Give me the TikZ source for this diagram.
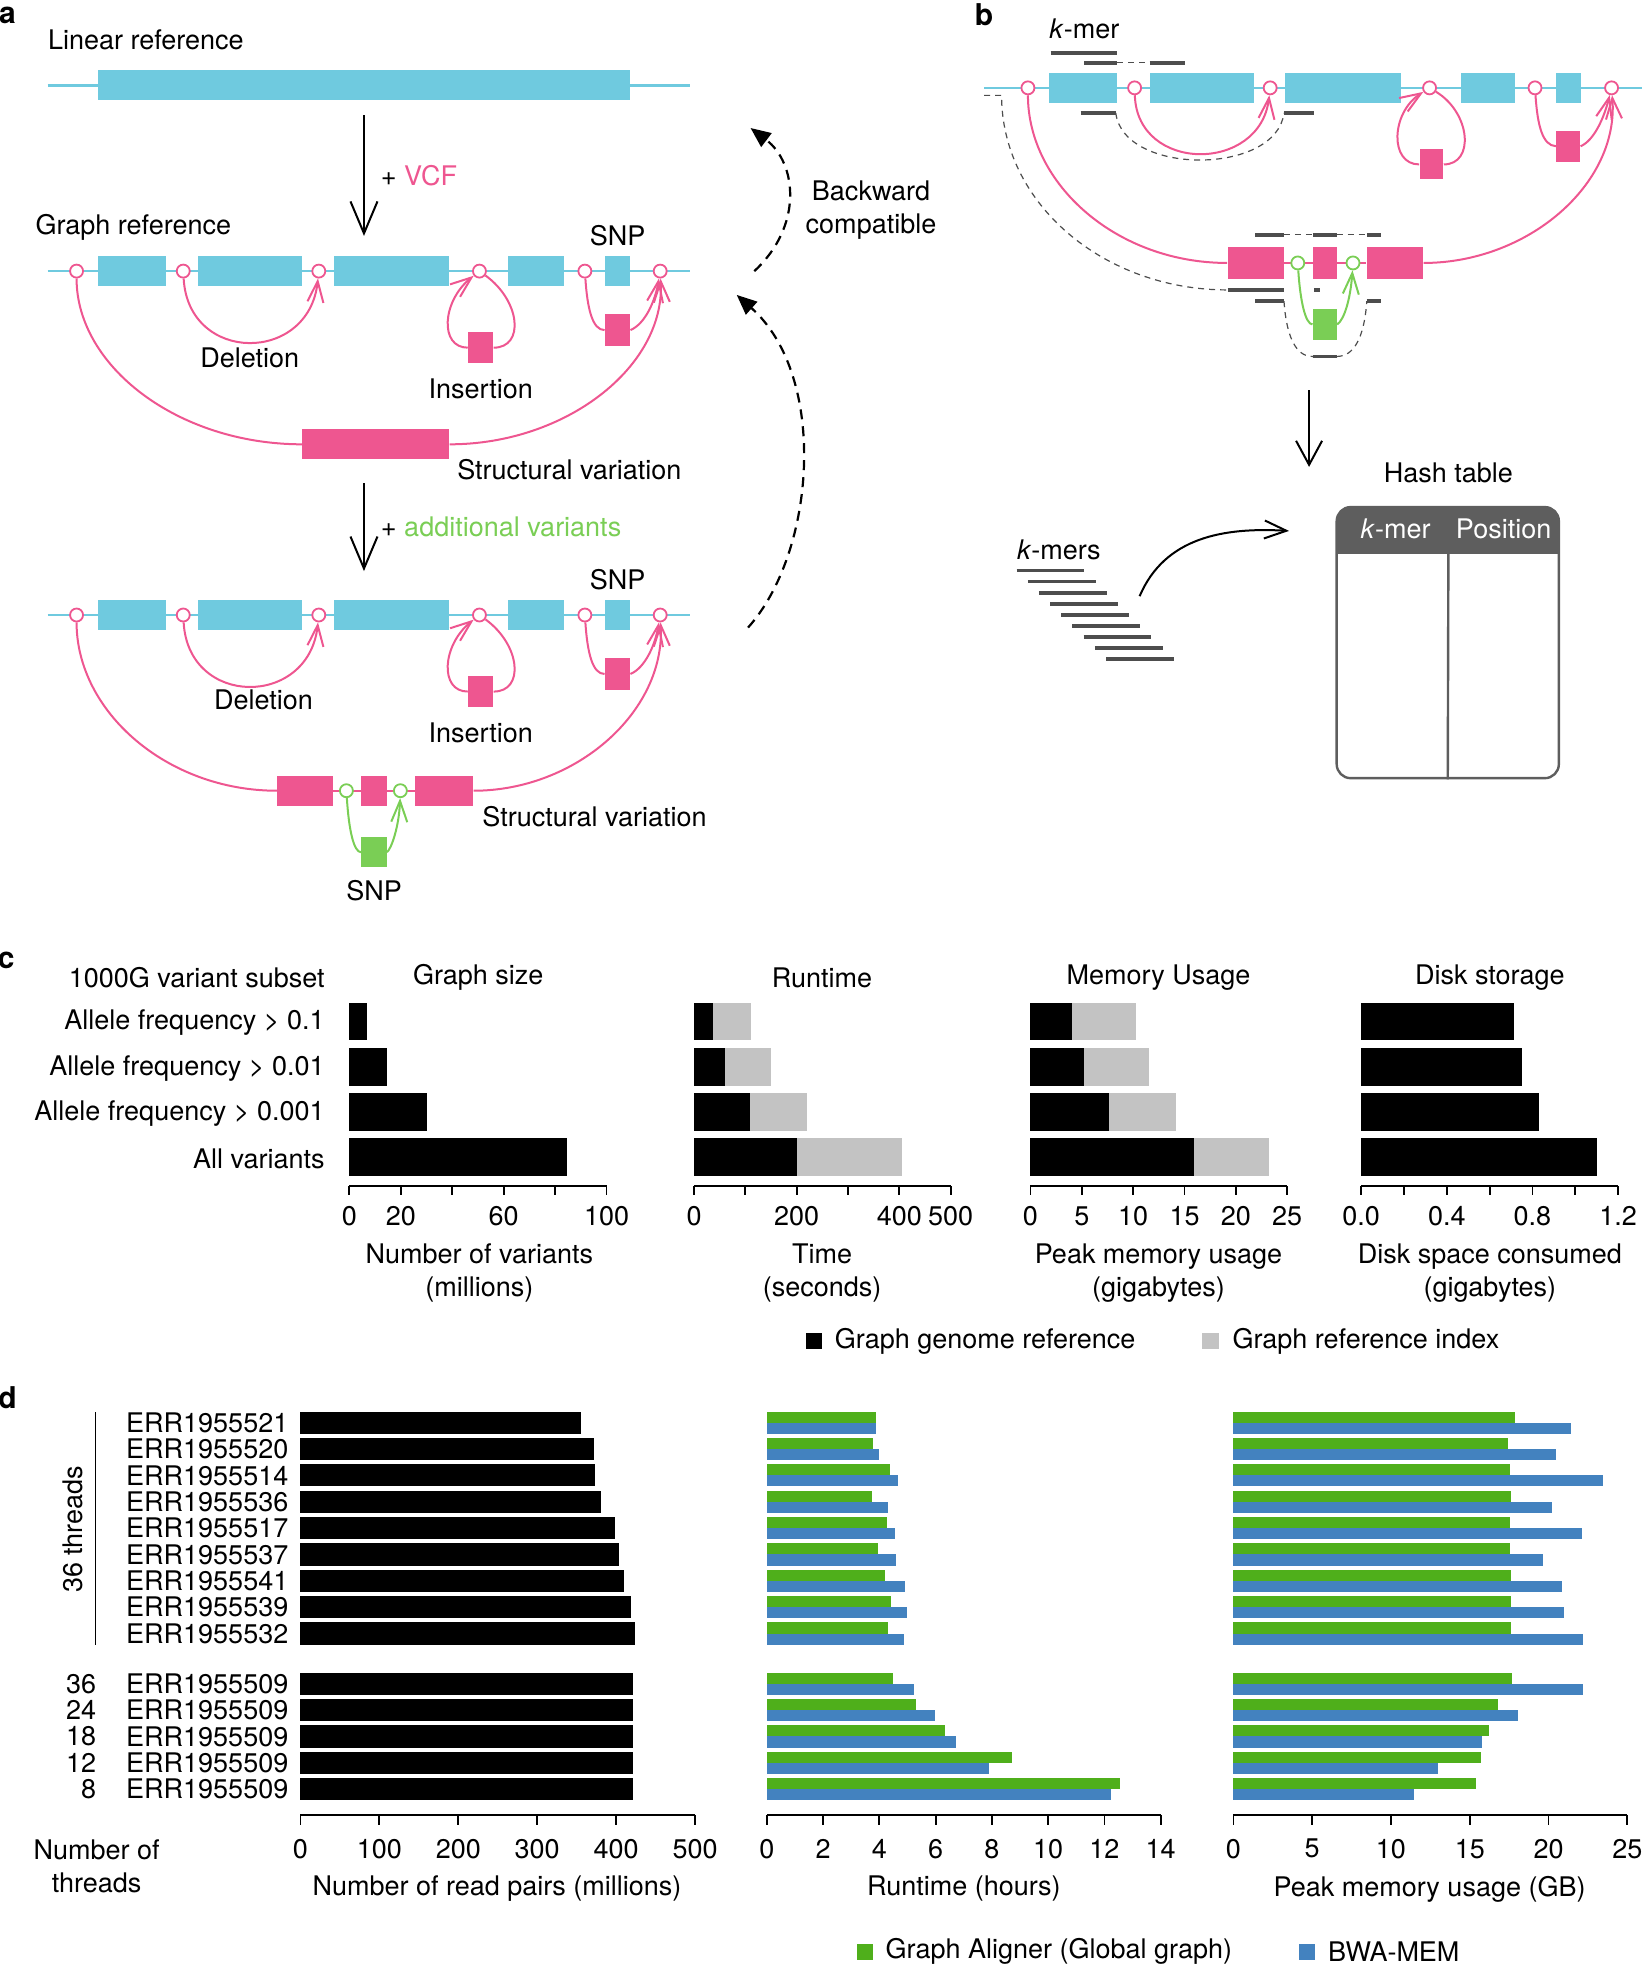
\documentclass[tikz,border=0pt]{standalone}
\usepackage{fontspec}
\setmainfont{TeX Gyre Heros}
\usetikzlibrary{arrows.meta,positioning}
\definecolor{tealc}{HTML}{6FCADF}
\definecolor{pinkc}{HTML}{EE5690}
\definecolor{greenc}{HTML}{7ACE55}
\definecolor{grn}{HTML}{4FAF1B}
\definecolor{blu}{HTML}{4382BF}
\definecolor{lgray}{HTML}{C3C3C3}
\definecolor{dgray}{HTML}{4D4D4D}
\definecolor{hgray}{HTML}{5E5E5E}
\newlength\pxu
\setlength\pxu{0.6277pt}

\begin{document}
\begin{tikzpicture}[x=0.6277pt, y=-0.6277pt, inner sep=0pt,
    font=\fontsize{13.5}{16.5}\selectfont,
    refline/.style={draw=tealc, line width=1.3pt},
    junc/.style={circle, draw=pinkc, fill=white, line width=0.9pt, minimum size=6.5pt},
    gjunc/.style={junc, draw=greenc},
    varbox/.style={fill=pinkc, minimum width=20\pxu, minimum height=25\pxu},
    gbox/.style={varbox, fill=greenc},
    pline/.style={draw=pinkc, line width=1pt},
    gline/.style={draw=greenc, line width=1pt},
    ptip/.style={-{Straight Barb[length=10.5pt, width=8pt]}},
    bigarrow/.style={draw, line width=1pt, -{Straight Barb[length=16pt, width=13.5pt]}},
    backarrow/.style={draw, line width=1.1pt, dash pattern=on 5pt off 3.5pt, -{Triangle[length=10pt, width=8.5pt]}},
    kbar/.style={draw=dgray, line width=1.8pt},
    kdash/.style={draw=dgray, line width=0.6pt, dash pattern=on 3pt off 2.5pt},
    axln/.style={draw, line width=0.9pt},
    panel/.style={font=\fontsize{15}{18}\selectfont\bfseries}]
  \useasboundingbox (0,0) rectangle (1308,1568);

  % ---------------- a ----------------
  \node[panel] (pa) at (6,12) {a};
  \node[anchor=west] (linref) at (38,32) {Linear reference};
  \draw[refline] (38,68) -- (550,68);
  \fill[tealc] (78,56) rectangle (502,80);
  \coordinate (va1) at (290,92);
  \coordinate (va2) at (290,188);
  \draw[bigarrow] (va1) -- (va2) node[midway, right=8pt] {+ \textcolor{pinkc}{VCF}};
  \node[anchor=west] (graphref) at (28,181) {Graph reference};

  \foreach \r/\y in {1/216, 2/490} {
    \draw[refline] (38,\y) -- (550,\y);
    \foreach \a/\b in {78/132, 158/241, 266/358, 405/449, 482/502}
      \fill[tealc] (\a,\y-12) rectangle (\b,\y+12);
    \foreach \n/\x in {1/61, 2/146, 3/254, 4/382, 5/466, 6/526}
      \node[junc] (c\r\n) at (\x,\y) {};
    \node[varbox] (ins\r) at (383,\y+61) {};
    \node[varbox] (snp\r) at (492,\y+47) {};
    \draw[pline, ptip] (c\r2) .. controls (150,\y+74) and (246,\y+74) .. (c\r3);
    \draw[pline] (c\r4) .. controls (415,\y+24) and (418,\y+61) .. (ins\r.east);
    \draw[pline, ptip] (ins\r.west) .. controls (350,\y+61) and (352,\y+24) .. (c\r4);
    \draw[pline] (c\r5) .. controls (468,\y+30) and (472,\y+47) .. (snp\r.west);
    \draw[pline, ptip] (snp\r.east) .. controls (514,\y+42) and (522,\y+24) .. (c\r6);
    \node (snplbl\r) at (492,\y-28) {SNP};
    \node (inslbl\r) at (383,\y+94) {Insertion};
  }

  % structural variation, first graph
  \node[varbox, minimum width=117\pxu, minimum height=24\pxu] (sv1) at (299.5,354) {};
  \draw[pline] (c11) .. controls (61,292) and (142,354) .. (sv1.west);
  \draw[pline, ptip] (sv1.east) .. controls (451,354) and (530,292) .. (c16);
  \node (del1) at (199,285) {Deletion};
  \node[anchor=west] (svlbl1) at (364,374) {Structural variation};

  \coordinate (vb1) at (290,385);
  \coordinate (vb2) at (290,455);
  \draw[bigarrow] (vb1) -- (vb2) node[midway, right=8pt] {+ \textcolor{greenc}{additional variants}};

  % structural variation with extra SNP, second graph
  \node[varbox, minimum width=44\pxu, minimum height=24\pxu] (svl) at (243,630) {};
  \node[varbox, minimum width=46\pxu, minimum height=24\pxu] (svr) at (354,630) {};
  \draw[pline] (svl.east) -- (svr.west);
  \node[varbox, minimum height=24\pxu] (svm) at (298,630) {};
  \node[gjunc] (g1) at (276,630) {};
  \node[gjunc] (g2) at (319,630) {};
  \node[gbox, minimum height=24\pxu] (gsnp) at (298,679) {};
  \draw[gline] (g1) .. controls (278,662) and (282,679) .. (gsnp.west);
  \draw[gline, ptip] (gsnp.east) .. controls (312,676) and (318,658) .. (g2);
  \draw[pline] (c21) .. controls (61,567) and (133,630) .. (svl.west);
  \draw[pline, ptip] (svr.east) .. controls (459,630) and (530,567) .. (c26);
  \node (del2) at (210,558) {Deletion};
  \node[anchor=west] (svlbl2) at (384,651) {Structural variation};
  \node (gsnplbl) at (298,710) {SNP};

  % backward compatible
  \node[align=center] (back) at (694,167) {Backward\\compatible};
  \coordinate (bk1) at (601,216);
  \coordinate (bk2) at (598,102);
  \coordinate (bk3) at (596,500);
  \coordinate (bk4) at (587,235);
  \draw[backarrow] (bk1) .. controls (640,180) and (635,130) .. (bk2);
  \draw[backarrow] (bk3) .. controls (650,440) and (660,300) .. (bk4);

  % ---------------- b ----------------
  \node[panel] (pb) at (784,12) {b};
  \node (kmerlbl) at (864,23) {\textit{k}-mer};
  \draw[refline] (784,70) -- (1308,70);
  \foreach \a/\b in {836/890, 916/999, 1024/1116, 1164/1207, 1240/1260}
    \fill[tealc] (\a,58) rectangle (\b,82);
  \foreach \n/\x in {1/819, 2/904, 3/1012, 4/1139, 5/1223, 6/1284}
    \node[junc] (b\n) at (\x,70) {};
  \node[varbox, minimum width=19\pxu, minimum height=24\pxu] (bins) at (1140.5,131) {};
  \node[varbox, minimum width=19\pxu] (bsnp) at (1249.5,116.5) {};
  \draw[pline, ptip] (b2) .. controls (906,138) and (1004,138) .. (b3);
  \draw[pline] (b4) .. controls (1172,90) and (1175,131) .. (bins.east);
  \draw[pline, ptip] (bins.west) .. controls (1107,131) and (1108,90) .. (b4);
  \draw[pline] (b5) .. controls (1225,100) and (1229,116) .. (bsnp.west);
  \draw[pline, ptip] (bsnp.east) .. controls (1270,112) and (1278,94) .. (b6);

  \node[varbox, minimum width=45\pxu] (bsvl) at (1000.5,209.5) {};
  \node[varbox, minimum width=45\pxu] (bsvr) at (1111.5,209.5) {};
  \draw[pline] (bsvl.east) -- (bsvr.west);
  \node[varbox, minimum width=19\pxu] (bsvm) at (1055.5,209.5) {};
  \node[gjunc] (bg1) at (1034,209.5) {};
  \node[gjunc] (bg2) at (1078,209.5) {};
  \node[gbox, minimum width=19\pxu] (bgsnp) at (1055.5,258.5) {};
  \draw[gline] (bg1) .. controls (1036,240) and (1040,258) .. (bgsnp.west);
  \draw[gline, ptip] (bgsnp.east) .. controls (1071,255) and (1076,238) .. (bg2);
  \draw[pline] (b1) .. controls (819,147) and (890,209.5) .. (bsvl.west);
  \draw[pline, ptip] (bsvr.east) .. controls (1217,209.5) and (1290,147) .. (b6);

  % k-mers along the graph
  \draw[kbar] (837,42) -- (890,42);
  \draw[kbar] (864,50) -- (890,50);
  \draw[kdash] (890,50) -- (916,50);
  \draw[kbar] (916,50) -- (944,50);
  \draw[kbar] (861,90) -- (889,90);
  \draw[kdash] (889,90) .. controls (895,140) and (1017,140) .. (1023,90);
  \draw[kbar] (1023,90) -- (1047,90);
  \draw[kbar] (1000,187) -- (1023,187);
  \draw[kdash] (1023,187) -- (1046,187);
  \draw[kbar] (1046,187) -- (1065,187);
  \draw[kdash] (1065,187) -- (1089,187);
  \draw[kbar] (1089,187) -- (1100,187);
  \draw[kdash] (784,76) -- (798,76) .. controls (798,162) and (879,231) .. (978,231);
  \draw[kbar] (978,231) -- (1023,231);
  \draw[kbar] (1047,231) -- (1052,231);
  \draw[kbar] (1000,240) -- (1023,240);
  \draw[kdash] (1023,240) .. controls (1026,282) and (1040,284) .. (1046,284);
  \draw[kbar] (1046,284) -- (1065,284);
  \draw[kdash] (1065,284) .. controls (1071,284) and (1086,282) .. (1089,240);
  \draw[kbar] (1089,240) -- (1100,240);

  \coordinate (vc1) at (1043,311);
  \coordinate (vc2) at (1043,372);
  \draw[bigarrow, -{Straight Barb[length=12pt, width=13pt]}] (vc1) -- (vc2);

  % hash table
  \node (hashlbl) at (1154,377) {Hash table};
  \begin{scope}
    \clip (1065,404) rectangle (1242,441);
    \fill[hgray, rounded corners=7pt] (1065,404) rectangle (1242,480);
  \end{scope}
  \node[draw=hgray, line width=1.2pt, rounded corners=7pt, minimum width=177\pxu, minimum height=216\pxu] (tbl) at (1153.5,512) {};
  \draw[hgray, line width=1.2pt] (1154,441) -- (tbl.south);
  \node[text=white] (hk) at (1112,421) {\textit{k}-mer};
  \node[text=white] (hp) at (1198,421) {Position};

  \node[anchor=west] (kmerslbl) at (810,438) {\textit{k}-mers};
  \foreach \i in {0,...,8}
    \draw[kbar] ({810+8.9*\i},{454.6+8.83*\i}) -- ++(54,0);
  \coordinate (ka) at (908,475);
  \coordinate (kb) at (1027,423);
  \draw[line width=1pt, -{Straight Barb[length=11pt, width=9pt]}] (ka) .. controls (928,428) and (975,420) .. (kb);

  % ---------------- c ----------------
  \node[panel] (pc) at (5,765) {c};
  \node[anchor=east] (subset) at (259,779) {1000G variant subset};
  \node[anchor=east] (af1) at (259,815) {Allele frequency > 0.1};
  \node[anchor=east] (af2) at (259,851) {Allele frequency > 0.01};
  \node[anchor=east] (af3) at (259,887) {Allele frequency > 0.001};
  \node[anchor=east] (afall) at (259,923) {All variants};
  \node (tgs) at (381,779) {Graph size};
  \node (trt) at (655,779) {Runtime};
  \node (tmu) at (923,779) {Memory Usage};
  \node (tds) at (1187,779) {Disk storage};

  \foreach \yy/\gs/\rb/\rg/\mb/\mg/\dk in {814/7/37/111/4.0/10.3/0.713, 850/14.6/61/149/5.2/11.5/0.753,
      886/30.3/109/220/7.6/14.2/0.83, 922/84.8/200/405/15.9/23.2/1.10} {
    \fill (278.3,\yy-15) rectangle ({278.3+2.05*\gs},\yy+15);
    \fill[lgray] (553,\yy-15) rectangle ({553+0.409*\rg},\yy+15);
    \fill (553,\yy-15) rectangle ({553+0.409*\rb},\yy+15);
    \fill[lgray] (821,\yy-15) rectangle ({821+8.19*\mg},\yy+15);
    \fill (821,\yy-15) rectangle ({821+8.19*\mb},\yy+15);
    \fill (1084.5,\yy-15) rectangle ({1084.5+170.6*\dk},\yy+15);
  }

  \draw[axln] (278.3,945) -- (483.3,945);
  \foreach \t in {0,20,...,100} \draw[axln] ({278.3+2.05*\t},945) -- ++(0,7);
  \foreach \t in {0,20,60,100} \node at ({278.3+2.05*\t},969) {\t};
  \draw[axln] (553,945) -- (757.4,945);
  \foreach \t in {0,100,...,500} \draw[axln] ({553+0.4088*\t},945) -- ++(0,7);
  \foreach \t in {0,200,400,500} \node at ({553+0.4088*\t},969) {\t};
  \draw[axln] (821,945) -- (1025.6,945);
  \foreach \t in {0,5,...,25} {
    \draw[axln] ({821+8.184*\t},945) -- ++(0,7);
    \node at ({821+8.184*\t},969) {\t};
  }
  \draw[axln] (1084.5,945) -- (1289.2,945);
  \foreach \t in {0,1,...,6} \draw[axln] ({1084.5+34.12*\t},945) -- ++(0,7);
  \foreach \t/\lab in {0/0.0, 2/0.4, 4/0.8, 6/1.2} \node at ({1084.5+34.12*\t},969) {\lab};

  \node[align=center] (xgs) at (382,1014) {Number of variants\\(millions)};
  \node[align=center] (xrt) at (655,1014) {Time\\(seconds)};
  \node[align=center] (xmu) at (923,1014) {Peak memory usage\\(gigabytes)};
  \node[align=center] (xds) at (1187,1014) {Disk space consumed\\(gigabytes)};

  \node[fill=black, minimum size=13\pxu] (legg) at (648.5,1068.5) {};
  \node[right=6pt of legg] (leggt) {Graph genome reference};
  \node[fill=lgray, minimum size=13\pxu] (legi) at (964.5,1068.5) {};
  \node[right=6.5pt of legi] (legit) {Graph reference index};

  % ---------------- d ----------------
  \node[panel] (pd) at (6,1114) {d};
  \foreach \yy/\nm/\np/\ga/\bw/\gm/\bm in {
      1133.5/ERR1955521/356/3.87/3.87/17.85/21.42,
      1154.5/ERR1955520/371.5/3.78/3.99/17.45/20.44,
      1175.5/ERR1955514/372.7/4.38/4.66/17.52/23.43,
      1196.5/ERR1955536/380.6/3.74/4.31/17.59/20.22,
      1217.5/ERR1955517/398.5/4.27/4.56/17.55/22.15,
      1238.5/ERR1955537/403.8/3.95/4.58/17.55/19.63,
      1259.5/ERR1955541/409.8/4.21/4.91/17.59/20.88,
      1280.5/ERR1955539/419/4.42/4.97/17.63/20.99,
      1301.5/ERR1955532/423.6/4.31/4.89/17.63/22.19,
      1341.5/ERR1955509/421/4.50/5.24/17.7/22.19,
      1362.5/ERR1955509/421/5.30/5.99/16.79/18.07,
      1383.5/ERR1955509/421/6.32/6.73/16.2/15.8,
      1404.5/ERR1955509/421/8.73/7.91/15.73/12.96,
      1425.5/ERR1955509/421/12.56/12.23/15.4/11.46} {
    \node[anchor=east] at (230,\yy) {\nm};
    \fill (239.4,\yy-8.8) rectangle ({239.4+0.6288*\np},\yy+8.8);
    \fill[grn] (611,\yy-8.8) rectangle ({611+22.41*\ga},\yy);
    \fill[blu] (611,\yy) rectangle ({611+22.41*\bw},\yy+8.8);
    \fill[grn] (982.7,\yy-8.8) rectangle ({982.7+12.556*\gm},\yy);
    \fill[blu] (982.7,\yy) rectangle ({982.7+12.556*\bm},\yy+8.8);
  }
  \foreach \yy/\t in {1341.5/36, 1362.5/24, 1383.5/18, 1404.5/12, 1425.5/8}
    \node[anchor=east] at (77,\yy) {\t};
  \node[rotate=90] (thr) at (58,1218.5) {36 threads};
  \draw[line width=0.6pt] (76.3,1125) -- (76.3,1311);

  \draw[axln] (239.4,1446) -- (553.8,1446);
  \foreach \t in {0,100,...,500} {
    \draw[axln] ({239.4+0.6288*\t},1446) -- ++(0,8);
    \node at ({239.4+0.6288*\t},1473) {\t};
  }
  \draw[axln] (611,1446) -- (924.8,1446);
  \foreach \t in {0,2,...,14} {
    \draw[axln] ({611+22.41*\t},1446) -- ++(0,8);
    \node at ({611+22.41*\t},1473) {\t};
  }
  \draw[axln] (982.7,1446) -- (1296.6,1446);
  \foreach \t in {0,5,...,25} {
    \draw[axln] ({982.7+12.556*\t},1446) -- ++(0,8);
    \node at ({982.7+12.556*\t},1473) {\t};
  }
  \node[align=center] (nthr) at (77,1487) {Number of\\threads};
  \node (xnp) at (396,1505) {Number of read pairs (millions)};
  \node (xrh) at (768,1505) {Runtime (hours)};
  \node (xpm) at (1139,1505) {Peak memory usage (GB)};

  \node[fill=grn, minimum size=13\pxu] (lga) at (689,1555) {};
  \node[right=6pt of lga] (lgat) {Graph Aligner (Global graph)};
  \node[fill=blu, minimum size=13\pxu] (lbw) at (1041.5,1555) {};
  \node[right=6pt of lbw] (lbwt) {BWA-MEM};
\end{tikzpicture}
\end{document}
